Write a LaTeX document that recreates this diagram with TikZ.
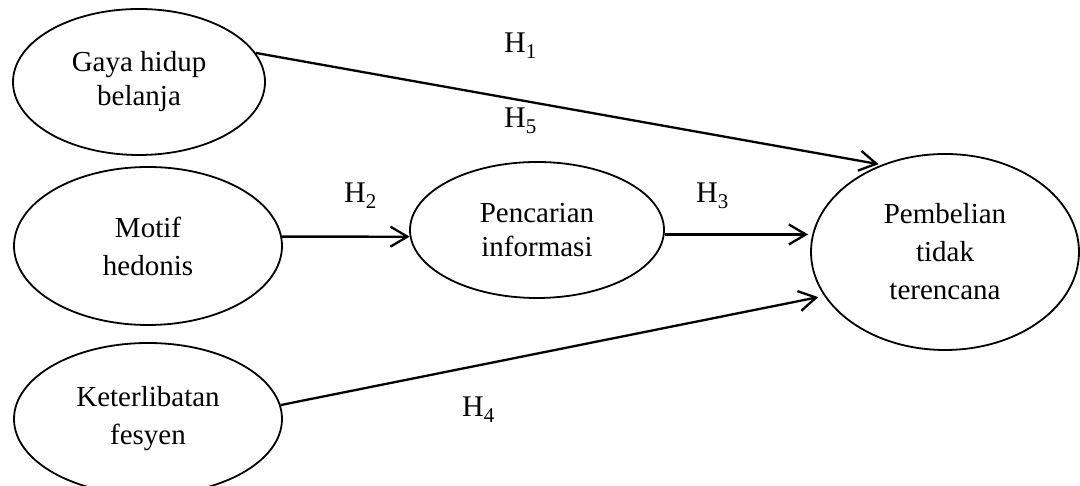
\documentclass[tikz,border=0pt]{standalone}
\usepackage{fontspec}
\setmainfont{Liberation Serif}
\usetikzlibrary{arrows.meta,shapes.geometric}
\newcommand\hlabtext[1]{H\raisebox{-6pt}{\fontsize{21}{21}\selectfont #1}}
\begin{document}
\begin{tikzpicture}[x=1pt,y=1pt,
  ell/.style={draw, ellipse, line width=1.8pt, inner sep=0pt, align=center,
    font=\fontsize{29}{38}\selectfont},
  arr/.style={line width=2.3pt, -{Straight Barb[length=17pt,width=20pt,line width=2.3pt]}},
  hlab/.style={anchor=base west, inner sep=0pt, font=\fontsize{30}{30}\selectfont}]
\useasboundingbox (0,0) rectangle (1080,486);
\node[ell, minimum width=252, minimum height=146, font=\fontsize{29}{34}\selectfont] (gaya) at (139,404) {Gaya hidup\\belanja};
\node[ell, minimum width=268, minimum height=158] (motif) at (148,240) {Motif\\hedonis};
\node[ell, minimum width=268, minimum height=152] (keter) at (148,67) {Keterlibatan\\fesyen};
\node[ell, minimum width=254, minimum height=136, font=\fontsize{29}{34}\selectfont] (penc) at (537,256) {Pencarian\\informasi};
\node[ell, minimum width=268, minimum height=196] (pemb) at (945,234) {Pembelian\\tidak\\terencana};

\draw[arr, shorten >=3pt] (gaya.14) -- (pemb.126);
\draw[arr] (motif.4) -- (penc.183);
\draw[arr, shorten >=2pt] (penc.-2) -- (penc.-2 -| pemb.west);
\draw[arr, shorten >=6pt] (keter.6) -- (pemb.200.5);

\node[hlab] (h1) at (504,433) {\hlabtext{1}};
\node[hlab] (h5) at (504,358) {\hlabtext{5}};
\node[hlab] (h2) at (344,283) {\hlabtext{2}};
\node[hlab] (h3) at (696,283) {\hlabtext{3}};
\node[hlab] (h4) at (462,69) {\hlabtext{4}};
\end{tikzpicture}
\end{document}
